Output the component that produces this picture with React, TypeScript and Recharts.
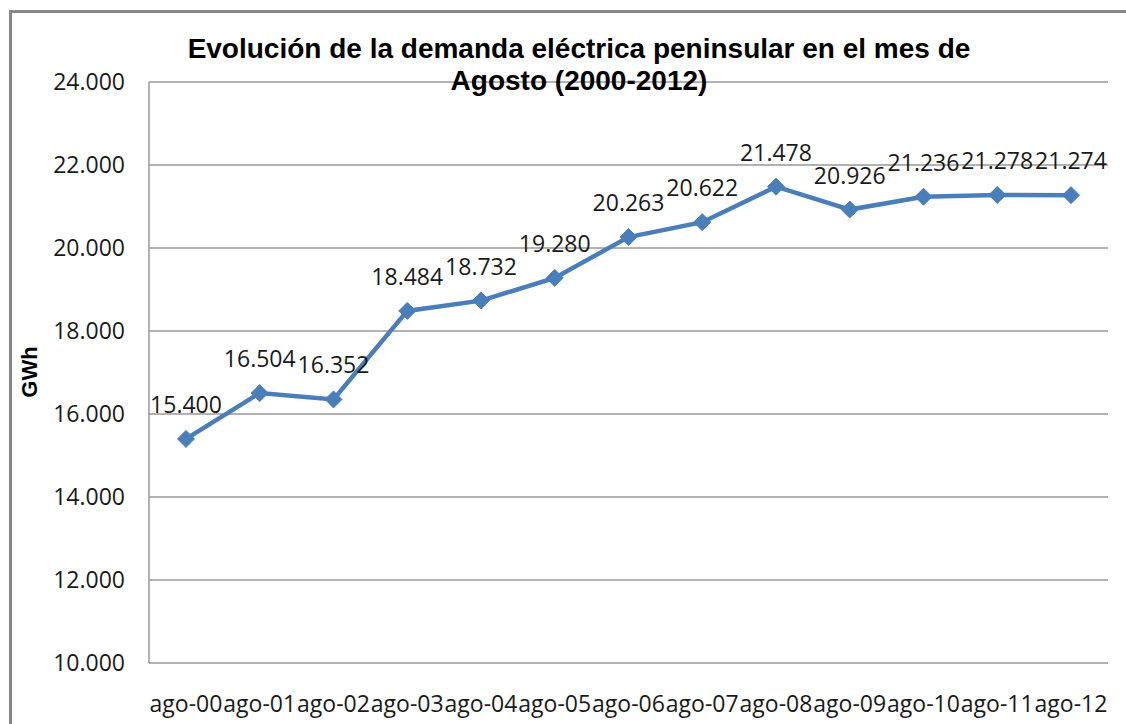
import React from 'react';
import { LineChart, Line, XAxis, YAxis, CartesianGrid, LabelList } from 'recharts';

const categories = ['ago-00', 'ago-01', 'ago-02', 'ago-03', 'ago-04', 'ago-05', 'ago-06', 'ago-07', 'ago-08', 'ago-09', 'ago-10', 'ago-11', 'ago-12'];
const demanda = [15400, 16504, 16352, 18484, 18732, 19280, 20263, 20622, 21478, 20926, 21236, 21278, 21274];
const yTicks = [10000, 12000, 14000, 16000, 18000, 20000, 22000, 24000];
const titleLines = ['Evolución de la demanda eléctrica peninsular en el mes de', 'Agosto (2000-2012)'];
const yTitle = 'GWh';

const data = categories.map((c, i) => ({ cat: c, value: demanda[i] }));

const fmt = (v: number) => {
  const s = Math.round(v).toString();
  return s.length > 3 ? s.slice(0, s.length - 3) + '.' + s.slice(s.length - 3) : s;
};

const FONT = '"Open Sans", Lato, sans-serif';
const LINE_COLOR = '#4a7ebb';

const Diamond = (props: any) => {
  const { cx, cy } = props;
  if (cx == null || cy == null) return null;
  const r = 8.5;
  return (
    <path
      d={`M${cx},${cy - r} L${cx + r},${cy} L${cx},${cy + r} L${cx - r},${cy} Z`}
      fill={LINE_COLOR}
      stroke={LINE_COLOR}
      strokeWidth={1}
    />
  );
};

const DataLabel = (props: any) => {
  const { x, y, value } = props;
  return (
    <text x={x} y={y - 35} textAnchor="middle" dominantBaseline="central" fontFamily={FONT} fontSize={23} fill="#1a1a1a">
      {fmt(value)}
    </text>
  );
};

export default function App() {
  return (
    <div style={{ position: 'absolute', left: 0, top: 0, width: 1126, height: 724, background: '#fff', overflow: 'hidden' }}>
      <div style={{ position: 'absolute', left: 9, top: 10, width: 1130, height: 730, border: '3px solid #888', boxSizing: 'border-box' }} />
      <LineChart width={1126} height={724} data={data} margin={{ top: 82, right: 18, bottom: 0, left: 49 }}>
        <CartesianGrid vertical={false} stroke="#999" strokeWidth={1.5} />
        <XAxis
          dataKey="cat"
          axisLine={false}
          tickLine={false}
          tickSize={0}
          tickMargin={33}
          height={61}
          interval={0}
          padding={{ left: 37, right: 37 }}
          tick={{ fontFamily: FONT, fontSize: 23, fill: '#1a1a1a' }}
        />
        <YAxis
          width={100}
          domain={[10000, 24000]}
          ticks={yTicks}
          tickFormatter={fmt}
          axisLine={{ stroke: '#999', strokeWidth: 1.5 }}
          tickLine={false}
          tickSize={0}
          tickMargin={24}
          tick={{ fontFamily: FONT, fontSize: 23, fill: '#1a1a1a' }}
        />
        <Line
          type="linear"
          dataKey="value"
          stroke={LINE_COLOR}
          strokeWidth={4.5}
          dot={<Diamond />}
          activeDot={false}
          isAnimationActive={false}
        >
          <LabelList dataKey="value" content={<DataLabel />} />
        </Line>
      </LineChart>
      <div style={{ position: 'absolute', left: 0, top: 33, width: 1158, textAlign: 'center', fontFamily: '"Liberation Sans", Arial, sans-serif', fontWeight: 'bold', fontSize: 28, lineHeight: '32px', color: '#000' }}>
        {titleLines.map((l, i) => (
          <div key={i}>{l}</div>
        ))}
      </div>
      <div style={{ position: 'absolute', left: 30, top: 372, width: 0, height: 0 }}>
        <div style={{ position: 'absolute', left: -40, top: -14, width: 80, height: 28, textAlign: 'center', transform: 'rotate(-90deg)', fontFamily: '"Liberation Sans", Arial, sans-serif', fontWeight: 'bold', fontSize: 22, lineHeight: '28px' }}>
          {yTitle}
        </div>
      </div>
    </div>
  );
}
